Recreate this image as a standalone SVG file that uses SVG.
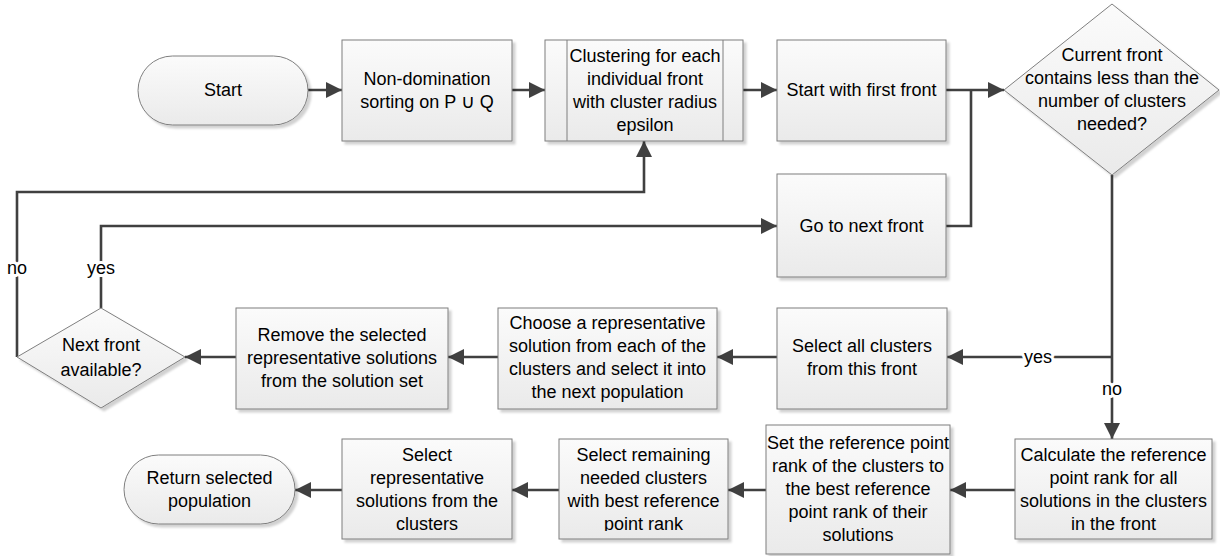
<svg xmlns="http://www.w3.org/2000/svg" width="1220" height="556" viewBox="0 0 1220 556">
<style>
.shape{fill:url(#g);stroke:#7f7f7f;stroke-width:1;filter:url(#sh)}
.inner{stroke:#7f7f7f;stroke-width:1;fill:none}
.t{font-family:"Liberation Sans",Arial,sans-serif;font-size:18px;fill:#000;text-anchor:middle}
.u{font-family:"DejaVu Sans",sans-serif;font-size:19px}
.c{fill:none;stroke:#404040;stroke-width:2.6}
.a{marker-end:url(#ah)}
.lbl{font-family:"Liberation Sans",Arial,sans-serif;font-size:18px;fill:#000;text-anchor:middle;stroke:#fff;stroke-width:6;paint-order:stroke;stroke-linejoin:round}
</style>
<defs>
<linearGradient id="g" x1="0" y1="0" x2="0" y2="1">
<stop offset="0" stop-color="#fbfbfb"/>
<stop offset="1" stop-color="#eaeaea"/>
</linearGradient>
<filter id="sh" x="-10%" y="-10%" width="130%" height="130%">
<feDropShadow dx="3" dy="3" stdDeviation="1.2" flood-color="#000" flood-opacity="0.18"/>
</filter>
<marker id="ah" markerUnits="userSpaceOnUse" markerWidth="17" markerHeight="17" refX="16" refY="8" orient="auto">
<path d="M0,0 L16,8 L0,16 z" fill="#404040"/>
</marker>
<clipPath id="clipRep"><rect x="342" y="439" width="170" height="93"/></clipPath>
<clipPath id="clipRem"><rect x="559" y="439" width="169" height="92"/></clipPath>
<clipPath id="clipCalc"><rect x="1015" y="439" width="197" height="92"/></clipPath>
</defs>
<rect width="1220" height="556" fill="#fff"/>

<g id="connectors">
<path class="c a" d="M308,90 H342"/>
<path class="c a" d="M512,90 H545"/>
<path class="c a" d="M743,90 H777"/>
<path class="c a" d="M946,90 H1004"/>
<path class="c" d="M946,226 H971 V90"/>
<path class="c a" d="M1112,175 V439"/>
<path class="c a" d="M1112,357 H947"/>
<path class="c a" d="M777,357 H717"/>
<path class="c a" d="M498,357 H448"/>
<path class="c a" d="M236,357 H185"/>
<path class="c a" d="M101,308 V226 H777"/>
<path class="c a" d="M17,357 V192 H644 V141"/>
<path class="c a" d="M1015,490 H950"/>
<path class="c a" d="M766,490 H728"/>
<path class="c a" d="M559,490 H512"/>
<path class="c a" d="M342,490 H295"/>
<text class="lbl" x="17" y="274">no</text>
<text class="lbl" x="101" y="274">yes</text>
<text class="lbl" x="1038" y="363">yes</text>
<text class="lbl" x="1112" y="395">no</text>
</g>

<g id="start">
<rect class="shape" x="138" y="56" width="170" height="69" rx="34.5" ry="34.5"/>
<text class="t" x="223" y="96">Start</text>
</g>

<g id="nondom">
<rect class="shape" x="342" y="40" width="170" height="101"/>
<text class="t" x="427" y="85">Non-domination</text>
<text class="t" x="427" y="108">sorting on P <tspan class="u">∪</tspan> Q</text>
</g>

<g id="clustering">
<rect class="shape" x="545" y="40" width="198" height="101"/>
<line class="inner" x1="567" y1="40" x2="567" y2="141"/>
<line class="inner" x1="723" y1="40" x2="723" y2="141"/>
<text class="t" x="645" y="62">Clustering for each</text>
<text class="t" x="645" y="85">individual front</text>
<text class="t" x="645" y="108">with cluster radius</text>
<text class="t" x="645" y="131">epsilon</text>
</g>

<g id="firstfront">
<rect class="shape" x="777" y="40" width="169" height="101"/>
<text class="t" x="861.5" y="96">Start with first front</text>
</g>

<g id="decision1">
<polygon class="shape" points="1004,90 1112,4 1219,90 1112,175"/>
<text class="t" x="1112" y="61">Current front</text>
<text class="t" x="1112" y="84">contains less than the</text>
<text class="t" x="1112" y="107">number of clusters</text>
<text class="t" x="1112" y="130">needed?</text>
</g>

<g id="nextfront">
<rect class="shape" x="777" y="174" width="169" height="103"/>
<text class="t" x="861.5" y="232">Go to next front</text>
</g>

<g id="selectall">
<rect class="shape" x="777" y="308" width="170" height="101"/>
<text class="t" x="862" y="352">Select all clusters</text>
<text class="t" x="862" y="375">from this front</text>
</g>

<g id="choose">
<rect class="shape" x="498" y="308" width="219" height="101"/>
<text class="t" x="607.5" y="329">Choose a representative</text>
<text class="t" x="607.5" y="352">solution from each of the</text>
<text class="t" x="607.5" y="375">clusters and select it into</text>
<text class="t" x="607.5" y="398">the next population</text>
</g>

<g id="remove">
<rect class="shape" x="236" y="308" width="212" height="101"/>
<text class="t" x="342" y="341">Remove the selected</text>
<text class="t" x="342" y="364">representative solutions</text>
<text class="t" x="342" y="387">from the solution set</text>
</g>

<g id="decision2">
<polygon class="shape" points="17,357 101,308 185,357 101,408"/>
<text class="t" x="101" y="351">Next front</text>
<text class="t" x="101" y="376">available?</text>
</g>

<g id="calculate">
<rect class="shape" x="1015" y="439" width="197" height="100"/>
<g clip-path="url(#clipCalc)">
<text class="t" x="1113.5" y="461">Calculate the reference</text>
<text class="t" x="1113.5" y="484">point rank for all</text>
<text class="t" x="1113.5" y="507">solutions in the clusters</text>
<text class="t" x="1113.5" y="530">in the front</text>
</g>
</g>

<g id="setref">
<rect class="shape" x="766" y="425" width="184" height="129"/>
<text class="t" x="858" y="449">Set the reference point</text>
<text class="t" x="858" y="472">rank of the clusters to</text>
<text class="t" x="858" y="495">the best reference</text>
<text class="t" x="858" y="518">point rank of their</text>
<text class="t" x="858" y="541">solutions</text>
</g>

<g id="remaining">
<rect class="shape" x="559" y="439" width="169" height="100"/>
<g clip-path="url(#clipRem)">
<text class="t" x="643.5" y="461">Select remaining</text>
<text class="t" x="643.5" y="484">needed clusters</text>
<text class="t" x="643.5" y="507">with best reference</text>
<text class="t" x="643.5" y="530">point rank</text>
</g>
</g>

<g id="selectrep">
<rect class="shape" x="342" y="439" width="170" height="100"/>
<g clip-path="url(#clipRep)">
<text class="t" x="427" y="461">Select</text>
<text class="t" x="427" y="484">representative</text>
<text class="t" x="427" y="507">solutions from the</text>
<text class="t" x="427" y="530">clusters</text>
</g>
</g>

<g id="return">
<rect class="shape" x="124" y="455" width="171" height="69" rx="34.5" ry="34.5"/>
<text class="t" x="209.5" y="484">Return selected</text>
<text class="t" x="209.5" y="507">population</text>
</g>
</svg>
